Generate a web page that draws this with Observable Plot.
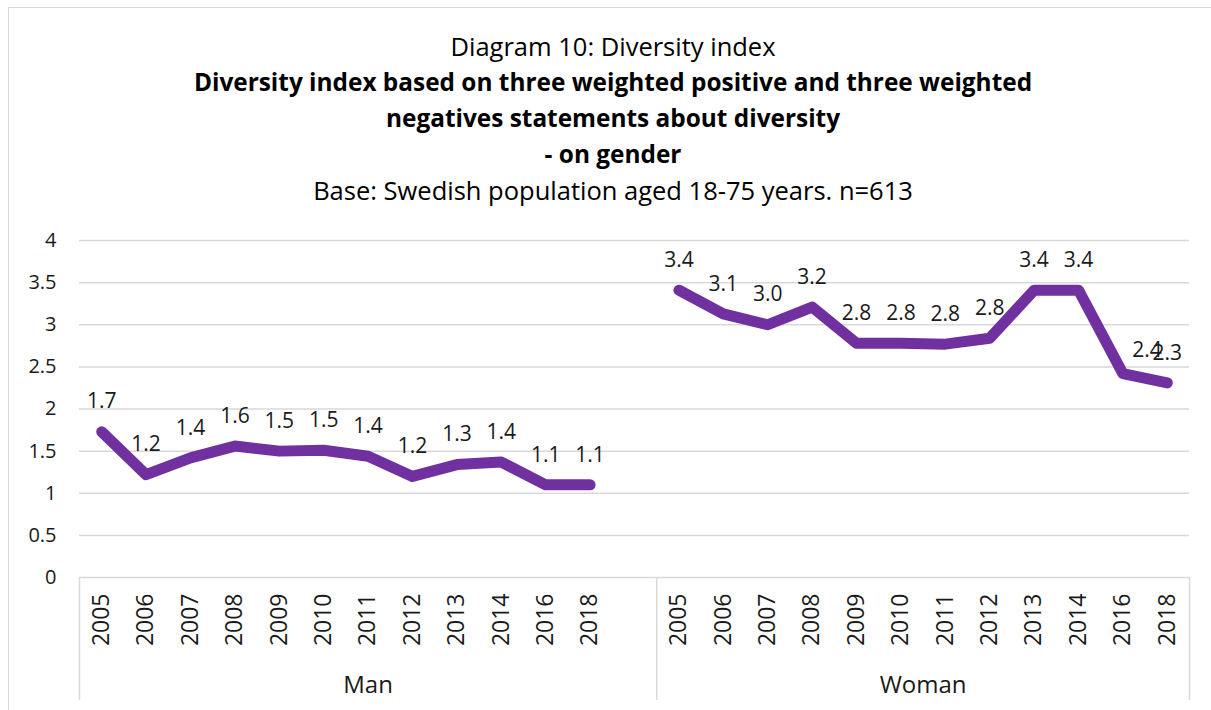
<!DOCTYPE html>
<html>
<head>
<meta charset="utf-8">
<script src="https://cdn.jsdelivr.net/npm/d3@7"></script>
<script src="https://cdn.jsdelivr.net/npm/@observablehq/plot@0.6"></script>
<style>
  html, body { margin: 0; padding: 0; background: #fff; }
  body { font-family: "Open Sans", sans-serif; color: #000; }
  #wrap { position: relative; width: 1211px; height: 710px; overflow: hidden; background: #fff; }
  #frame { position: absolute; left: 8px; top: 7px; width: 1240px; height: 760px; border: 1.5px solid #d9d9d9; box-sizing: border-box; }
  #titles { position: absolute; left: 0; top: 28px; width: 1226px; text-align: center; }
  #titles div { height: 36px; line-height: 36px; white-space: nowrap; }
  .t1 { font-size: 25.5px; }
  .tb { font-size: 24.4px; font-weight: 700; }
  #chart { position: absolute; left: 0; top: 220px; }
</style>
</head>
<body>
<div id="wrap">
  <div id="frame"></div>
  <div id="titles">
    <div class="t1">Diagram 10: Diversity index</div>
    <div class="tb">Diversity index based on three weighted positive and three weighted</div>
    <div class="tb">negatives statements about diversity</div>
    <div class="tb">- on gender</div>
    <div class="t1">Base: Swedish population aged 18-75 years. n=613</div>
  </div>
  <div id="chart"></div>
</div>
<script>
// ---- data ----
const groups = ["Man", "Woman"];
const years = ["2005", "2006", "2007", "2008", "2009", "2010", "2011", "2012", "2013", "2014", "2016", "2018"];
const manValues = [1.73, 1.22, 1.42, 1.56, 1.50, 1.51, 1.44, 1.20, 1.34, 1.37, 1.10, 1.10];
const womanValues = [3.41, 3.13, 3.00, 3.21, 2.78, 2.78, 2.77, 2.84, 3.41, 3.41, 2.42, 2.31];
const yTicks = [0, 0.5, 1, 1.5, 2, 2.5, 3, 3.5, 4];

// ---- build table: each group gets its years plus one empty slot after Man ----
const seriesValues = [manValues, womanValues];
const slotsPerGroup = years.length + 1; // Man has an empty trailing slot
const rows = [];
const tickIdx = [];
const yearOf = {};
groups.forEach((g, gi) => {
  years.forEach((yr, i) => {
    const idx = gi * slotsPerGroup + i;
    rows.push({group: g, year: yr, idx, value: seriesValues[gi][i]});
    tickIdx.push(idx);
    yearOf[idx] = yr;
  });
});
const lastIdx = tickIdx[tickIdx.length - 1];
const groupSpans = groups.map((g, gi) => {
  const start = gi * slotsPerGroup - 0.5;
  const end = gi === groups.length - 1 ? lastIdx + 0.5 : (gi + 1) * slotsPerGroup - 0.5;
  return {group: g, start, end, center: (start + end) / 2};
});
const bounds = [groupSpans[0].start, ...groupSpans.map(s => s.end)];

const isShifted = d => d.group === "Woman" && d.year === "2016";

const textColor = "#1a1a1a";
const gridColor = "#d9d9d9";
const lineColor = "#7030A0";

const chart = Plot.plot({
  width: 1211,
  height: 490,
  marginTop: 20,
  marginBottom: 133,
  marginLeft: 79,
  marginRight: 22,
  style: {fontFamily: "'Open Sans', sans-serif", background: "transparent", color: textColor, overflow: "visible"},
  x: {type: "linear", domain: [-0.5, lastIdx + 0.5]},
  y: {domain: [0, 4]},
  marks: [
    Plot.gridY(yTicks.filter(t => t > 0), {stroke: gridColor, strokeOpacity: 1, strokeWidth: 1.5}),
    Plot.ruleY([0], {stroke: gridColor, strokeWidth: 1.5}),
    Plot.ruleX(bounds, {x: d => d, y1: 0, y2: 0, insetBottom: -123, stroke: gridColor, strokeWidth: 1.5}),
    Plot.axisY({ticks: yTicks, tickSize: 0, tickPadding: 23, tickFormat: d => String(d), fontSize: 20, fill: textColor, label: null}),
    Plot.axisX({ticks: tickIdx, tickFormat: i => yearOf[i], tickRotate: -90, tickSize: 0, tickPadding: 16, fontSize: 23, fill: textColor, label: null}),
    Plot.text(groupSpans, {x: "center", text: "group", frameAnchor: "bottom", dy: 115, fontSize: 24, fill: textColor}),
    Plot.line(rows, {x: "idx", y: "value", z: "group", stroke: lineColor, strokeWidth: 11, strokeLinejoin: "round", strokeLinecap: "round"}),
    Plot.text(rows.filter(d => !isShifted(d)), {x: "idx", y: "value", text: d => d.value.toFixed(1), dy: -30, fontSize: 21, fill: textColor}),
    Plot.text(rows.filter(isShifted), {x: "idx", y: "value", text: d => d.value.toFixed(1), dx: 24, dy: -23, fontSize: 21, fill: textColor})
  ]
});
document.getElementById("chart").appendChild(chart);
</script>
</body>
</html>
